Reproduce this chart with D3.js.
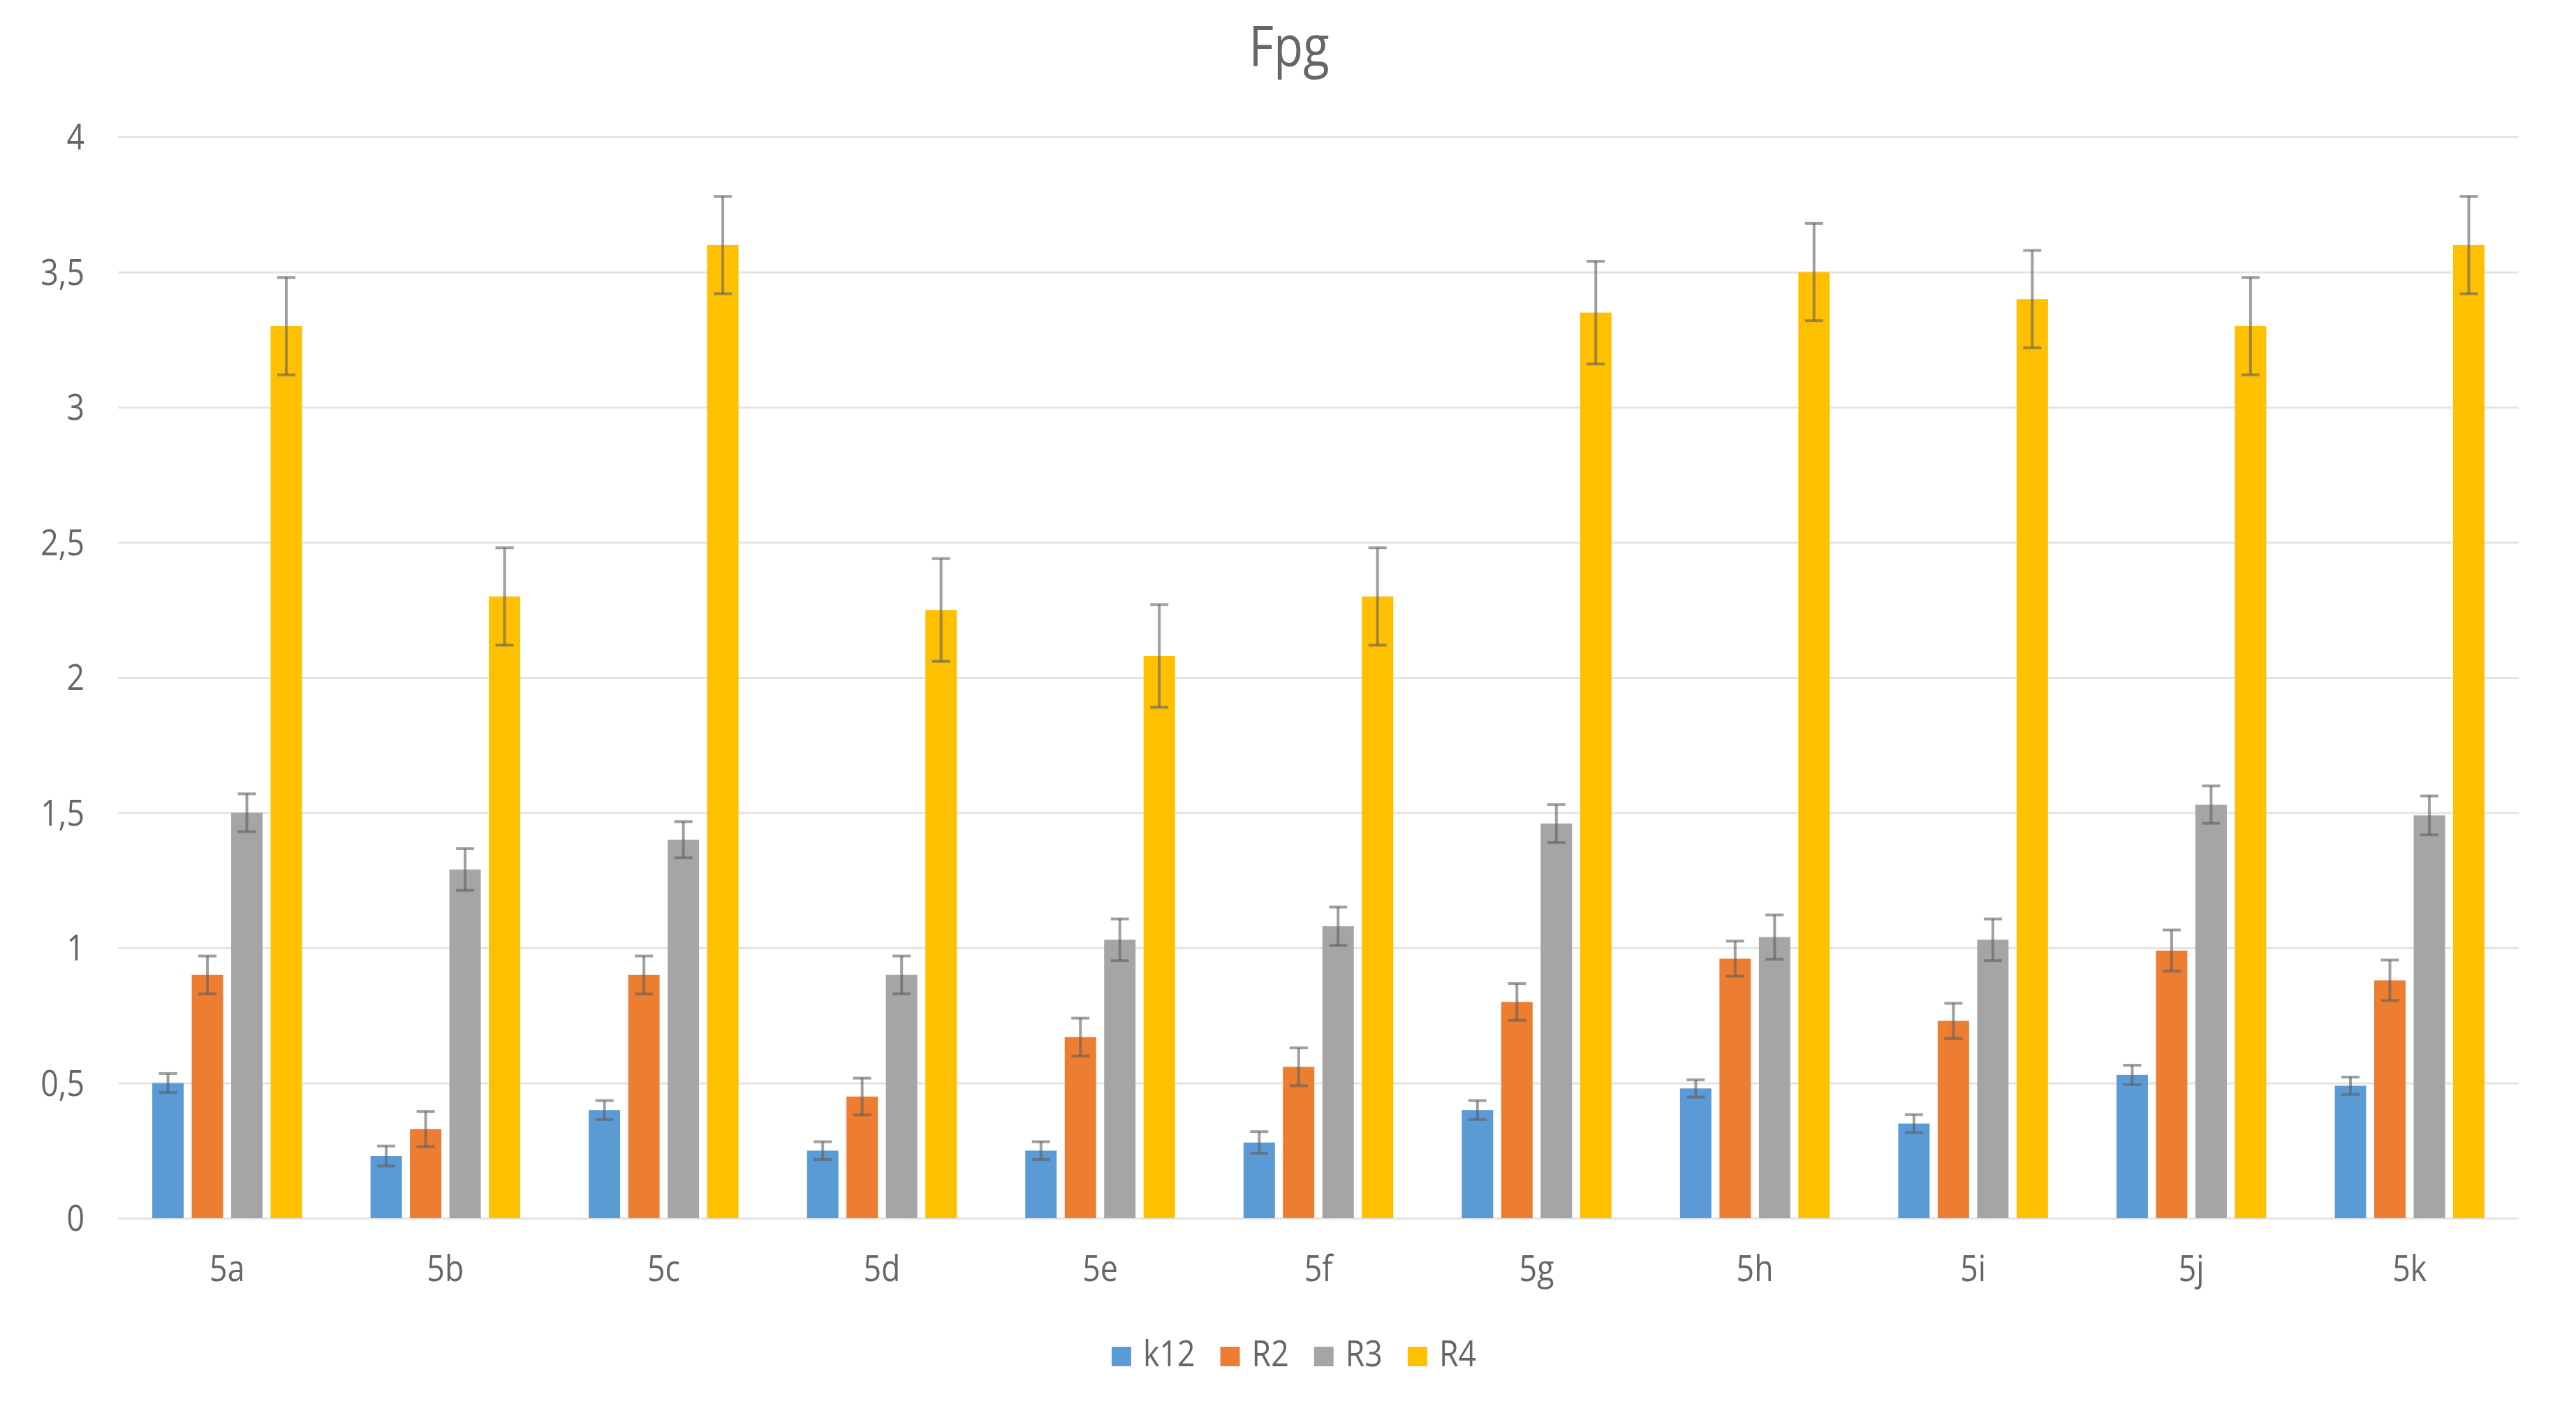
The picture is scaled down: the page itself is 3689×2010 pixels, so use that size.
<!DOCTYPE html>
<html>
<head>
<meta charset="utf-8">
<script src="https://cdn.jsdelivr.net/npm/d3@7"></script>
<style>
  html, body { margin: 0; padding: 0; background: #ffffff; }
  svg { display: block; }
  text { font-family: "Open Sans", "Liberation Sans", sans-serif; fill: #666666; }
</style>
</head>
<body>
<svg id="chart" width="3689" height="2010"></svg>
<script>
const title = "Fpg";
const categories = ["5a","5b","5c","5d","5e","5f","5g","5h","5i","5j","5k"];
const seriesNames = ["k12","R2","R3","R4"];
const seriesColors = ["#5B9BD5","#ED7D31","#A5A5A5","#FFC000"];

const k12 = [0.50,0.23,0.40,0.25,0.25,0.28,0.40,0.48,0.35,0.53,0.49];
const R2  = [0.90,0.33,0.90,0.45,0.67,0.56,0.80,0.96,0.73,0.99,0.88];
const R3  = [1.50,1.29,1.40,0.90,1.03,1.08,1.46,1.04,1.03,1.53,1.49];
const R4  = [3.30,2.30,3.60,2.25,2.08,2.30,3.35,3.50,3.40,3.30,3.60];

const errK12 = [0.035,0.037,0.035,0.033,0.033,0.040,0.035,0.032,0.033,0.036,0.032];
const errR2  = [0.070,0.065,0.070,0.068,0.070,0.070,0.068,0.065,0.065,0.076,0.075];
const errR3  = [0.070,0.077,0.067,0.070,0.077,0.071,0.070,0.082,0.077,0.069,0.072];
const errR4  = [0.180,0.180,0.180,0.190,0.190,0.180,0.190,0.180,0.180,0.180,0.180];

const yTicks = [0,0.5,1,1.5,2,2.5,3,3.5,4];
const yTickLabels = ["0","0,5","1","1,5","2","2,5","3","3,5","4"];

const values = [k12, R2, R3, R4];
const errors = [errK12, errR2, errR3, errR4];

const W = 3689, H = 2010;
const plot = { left: 169, right: 3607, top: 196, bottom: 1744 };
const SX = 0.86; // horizontal text compression
const fs = 52;

const svg = d3.select("#chart");

const x0 = d3.scaleBand().domain(categories).range([plot.left, plot.right]).padding(0);
const bw = x0.bandwidth();
const x1 = d3.scaleBand().domain(seriesNames).range([bw * 0.157, bw * 0.843]).paddingInner(0.204);
const y = d3.scaleLinear().domain([0, 4]).range([plot.bottom, plot.top]);
const color = d3.scaleOrdinal().domain(seriesNames).range(seriesColors);

function sText(g, x, yy, str, size, anchor) {
  const t = g.append("g").attr("transform", `translate(${x},${yy}) scale(${SX},1)`);
  return t.append("text").attr("x", 0).attr("y", 0)
    .attr("font-size", size).attr("text-anchor", anchor || "start").text(str);
}

// gridlines
const yAxis = d3.axisLeft(y).tickValues(yTicks).tickSize(-(plot.right - plot.left)).tickFormat("");
const ga = svg.append("g").attr("transform", `translate(${plot.left},0)`).call(yAxis);
ga.select(".domain").remove();
ga.selectAll(".tick line").attr("stroke", "#e4e4e4").attr("stroke-width", 3);

// y labels
const yl = svg.append("g");
yTicks.forEach((v, i) => {
  sText(yl, 121, y(v) + 18, yTickLabels[i], fs, "end");
});

// bars
const rows = categories.map((c, ci) => ({
  cat: c,
  items: seriesNames.map((s, si) => ({ s, v: values[si][ci], e: errors[si][ci] }))
}));

const groups = svg.append("g").selectAll("g.grp").data(rows).join("g")
  .attr("class", "grp")
  .attr("transform", d => `translate(${x0(d.cat)},0)`);

groups.selectAll("rect").data(d => d.items).join("rect")
  .attr("x", d => x1(d.s))
  .attr("width", x1.bandwidth())
  .attr("y", d => y(d.v))
  .attr("height", d => y(0) - y(d.v))
  .attr("fill", d => color(d.s));

// error bars
const capW = 26;
const eb = groups.selectAll("g.err").data(d => d.items).join("g").attr("class", "err")
  .attr("stroke", "#5f5f5f").attr("stroke-opacity", 0.6).attr("stroke-width", 4);
eb.append("line")
  .attr("x1", d => x1(d.s) + x1.bandwidth() / 2)
  .attr("x2", d => x1(d.s) + x1.bandwidth() / 2)
  .attr("y1", d => y(d.v + d.e))
  .attr("y2", d => y(d.v - d.e));
eb.append("line")
  .attr("x1", d => x1(d.s) + x1.bandwidth() / 2 - capW / 2)
  .attr("x2", d => x1(d.s) + x1.bandwidth() / 2 + capW / 2)
  .attr("y1", d => y(d.v + d.e))
  .attr("y2", d => y(d.v + d.e));
eb.append("line")
  .attr("x1", d => x1(d.s) + x1.bandwidth() / 2 - capW / 2)
  .attr("x2", d => x1(d.s) + x1.bandwidth() / 2 + capW / 2)
  .attr("y1", d => y(d.v - d.e))
  .attr("y2", d => y(d.v - d.e));

// x labels
const xl = svg.append("g");
categories.forEach(c => {
  sText(xl, x0(c) + bw / 2, 1834, c, fs, "middle");
});

// title
sText(svg, 1846, 95, title, 80, "middle");

// legend
const lg = svg.append("g");
const sq = 28, gapSqText = 17, gapItem = 36;
let cursor = 0;
const items = [];
seriesNames.forEach((s, i) => {
  const g = lg.append("g");
  g.append("rect").attr("x", 0).attr("y", -sq).attr("width", sq).attr("height", sq).attr("fill", color(s));
  const t = sText(g, sq + gapSqText, 0, s, fs, "start");
  const tw = t.node().getComputedTextLength() * SX;
  items.push({ g, x: cursor });
  cursor += sq + gapSqText + tw + gapItem;
});
const total = cursor - gapItem;
const startX = 1853 - total / 2;
items.forEach(it => it.g.attr("transform", `translate(${startX + it.x},1956)`));
</script>
</body>
</html>
